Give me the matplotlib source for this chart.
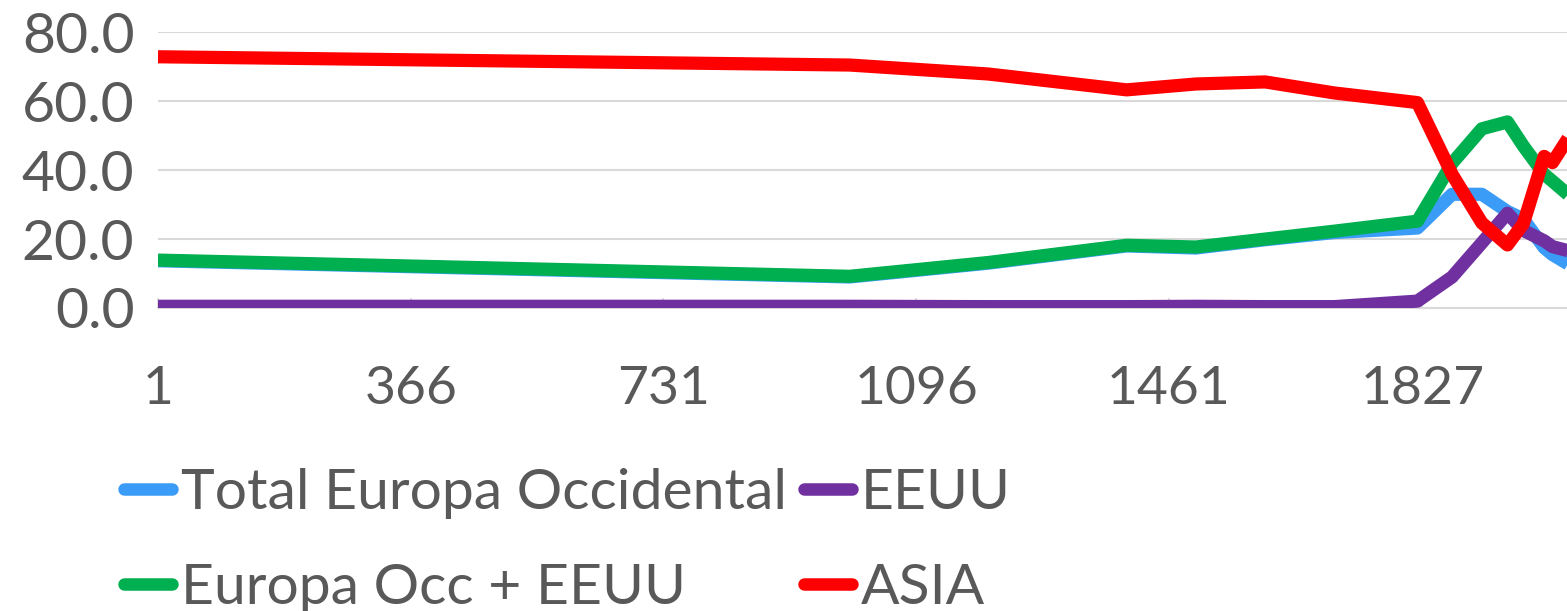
import matplotlib.pyplot as plt
from matplotlib.lines import Line2D

# years on a serial (Excel-date-like) axis; last point lies past the cropped edge
years = [1, 1000, 1200, 1400, 1500, 1600, 1700, 1820, 1870, 1913, 1950, 1973, 2003, 2015, 2040]

europa_occ = [13.7, 9.0, 13.0, 18.0, 17.4, 19.8, 21.9, 23.2, 33.0, 33.0, 28.0, 25.8, 17.5, 15.5, 12.5]
eeuu = [0.5, 0.5, 0.4, 0.4, 0.5, 0.4, 0.4, 2.0, 9.0, 18.9, 27.5, 22.5, 19.5, 17.8, 16.5]
europa_eeuu = [13.9, 9.2, 13.2, 18.2, 17.7, 20.0, 22.3, 25.2, 42.0, 52.0, 54.0, 47.0, 38.8, 36.8, 32.5]
asia = [72.9, 70.5, 67.9, 63.3, 65.0, 65.6, 62.4, 59.6, 38.8, 24.7, 18.3, 24.5, 44.0, 42.2, 50.0]

series_names = ["Total Europa Occidental", "EEUU", "Europa Occ + EEUU", "ASIA"]
series_colors = ["#3a9cf7", "#7030a0", "#00b050", "#ff0000"]

x_ticks = [1, 366, 731, 1096, 1461, 1827]
y_ticks = [0, 20, 40, 60, 80]

TXT = "#595959"
GRID = "#d9d9d9"
plt.rcParams["font.family"] = ["Lato", "DejaVu Sans"]

W, H = 1567, 611
fig = plt.figure(figsize=(W / 100, H / 100), dpi=100)
ax = fig.add_axes([158 / W, 1 - 308 / H, 1 - 158 / W, (308 - 32.3) / H])

for vals, name, col in zip([europa_occ, eeuu, europa_eeuu, asia], series_names, series_colors):
    ax.plot(years, vals, color=col, lw=9.5, solid_joinstyle="round",
            solid_capstyle="butt", label=name, zorder=3)

ax.set_xlim(1, 2036)
ax.set_ylim(0, 80)
ax.set_xticks(x_ticks)
ax.set_xticklabels([str(t) for t in x_ticks])
ax.set_yticks(y_ticks)
ax.set_yticklabels([f"{t:.1f}" for t in y_ticks])

ax.grid(axis="y", color=GRID, lw=1.5, zorder=0)
for s in ("top", "right", "left"):
    ax.spines[s].set_visible(False)
ax.spines["bottom"].set_color(GRID)
ax.spines["bottom"].set_linewidth(1.5)
ax.spines["bottom"].set_zorder(1)

ax.tick_params(axis="y", length=0, pad=17, labelsize=41, labelcolor=TXT)
ax.tick_params(axis="x", direction="in", length=7, width=1.2, color=GRID,
               pad=42, labelsize=38.5, labelcolor=TXT)

handles = [Line2D([], [], color=c, lw=9, solid_capstyle="round") for c in series_colors]
order = [0, 2, 1, 3]
fig.legend([handles[i] for i in order], [series_names[i] for i in order],
           ncol=2, loc="upper left", bbox_to_anchor=(124 / W, 1 - 468 / H),
           frameon=False, fontsize=41, labelcolor=TXT, handlelength=0.85,
           handletextpad=0.15, columnspacing=0.3, labelspacing=0.78,
           borderpad=0, borderaxespad=0)

fig.savefig("out.png", dpi=100)
